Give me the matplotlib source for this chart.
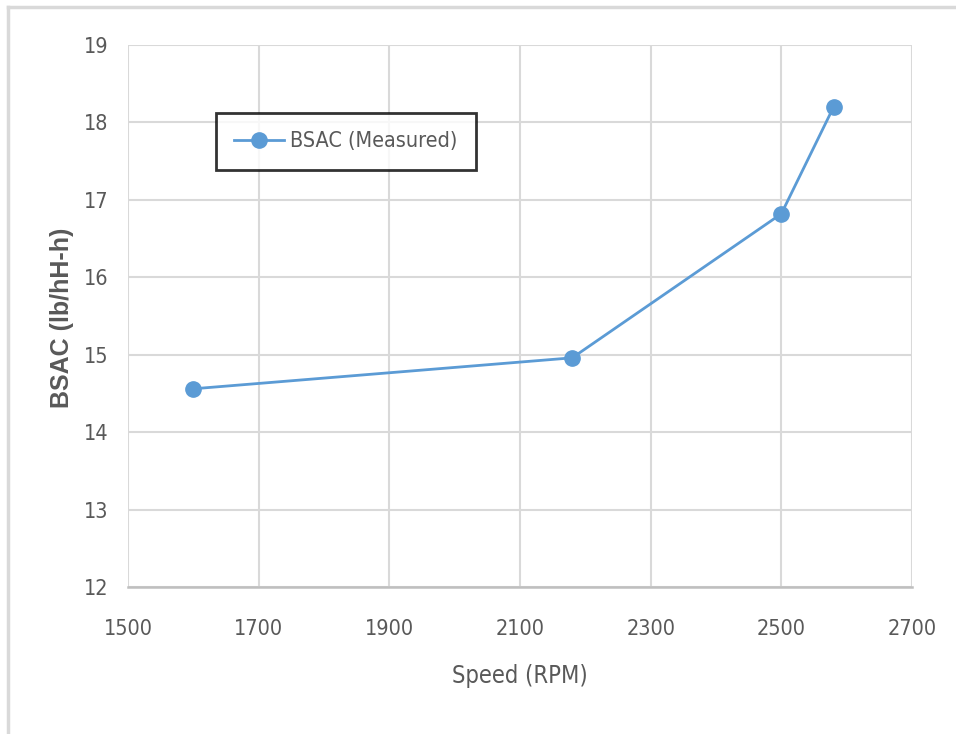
import matplotlib
matplotlib.use("Agg")
import matplotlib.pyplot as plt
from matplotlib.lines import Line2D
from matplotlib.font_manager import FontProperties

speed = [1600, 2180, 2500, 2580]
bsac = [14.56, 14.96, 16.82, 18.2]
xticks = [1500, 1700, 1900, 2100, 2300, 2500, 2700]
yticks = [12, 13, 14, 15, 16, 17, 18, 19]
series_name = "BSAC (Measured)"
xlabel = "Speed (RPM)"
ylabel = "BSAC (lb/hH-h)"

txt = '#595959'
blue = '#5B9BD5'
grid = '#D9D9D9'

def nf(size):
    return FontProperties(family=['DejaVu Sans'], stretch='condensed', size=size)

W, H = 956, 734
fig = plt.figure(figsize=(W/100, H/100), dpi=100)
ax = fig.add_axes([128/W, 1-587/H, (912-128)/W, (587-45)/H])

ax.plot(speed, bsac, color=blue, lw=2, marker='o', markersize=11,
        markerfacecolor=blue, markeredgecolor=blue, label=series_name, zorder=3)

ax.set_xlim(1500, 2700)
ax.set_ylim(12, 19)
ax.set_xticks(xticks)
ax.set_yticks(yticks)
ax.set_xticklabels([str(v) for v in xticks], fontproperties=nf(15.5), color=txt)
ax.set_yticklabels([str(v) for v in yticks], fontproperties=nf(15.5), color=txt)
ax.tick_params(axis='x', length=0, pad=23)
ax.tick_params(axis='y', length=0, pad=14)
ax.grid(True, color=grid, lw=1.5, zorder=0)
for s in ['top', 'right', 'left']:
    ax.spines[s].set_visible(False)
ax.spines['bottom'].set_color('#BFBFBF')
ax.spines['bottom'].set_linewidth(1.8)
ax.set_axisbelow(True)

ax.set_xlabel(xlabel, fontproperties=nf(17), color=txt, labelpad=18)
fig.text(62/W, 1-318/H, ylabel, rotation=90, ha='center', va='center',
         family=['Liberation Sans', 'DejaVu Sans'], fontsize=18, fontweight='bold', color=txt)

leg = ax.legend(loc='upper left', bbox_to_anchor=(216/W, 1-113/H), bbox_transform=fig.transFigure,
                prop=nf(15.5), frameon=True, fancybox=False,
                borderpad=0.85, handlelength=2.3, handletextpad=0.3, borderaxespad=0)
leg.get_frame().set_edgecolor('black')
leg.get_frame().set_linewidth(2)
for t in leg.get_texts():
    t.set_color(txt)

fig.add_artist(Line2D([8/W, 1], [1-7/H, 1-7/H], transform=fig.transFigure, color=grid, lw=2.5))
fig.add_artist(Line2D([8/W, 8/W], [0, 1-7/H], transform=fig.transFigure, color=grid, lw=2.5))

fig.savefig('out.png', dpi=100)
